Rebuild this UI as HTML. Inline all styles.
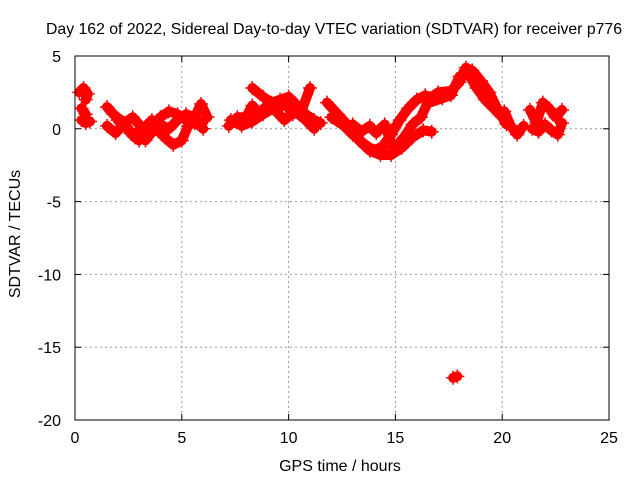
<!DOCTYPE html>
<html><head><meta charset="utf-8"><style>
body{margin:0;background:#fff}
svg text{font-family:"Liberation Sans",sans-serif;font-size:16px;fill:#000}
</style></head><body>
<svg id="chart" width="640" height="480" viewBox="0 0 640 480" xmlns="http://www.w3.org/2000/svg">
<rect width="640" height="480" fill="#fff"/>
<text x="334" y="34" text-anchor="middle" textLength="576" lengthAdjust="spacingAndGlyphs">Day 162 of 2022, Sidereal Day-to-day VTEC variation (SDTVAR) for receiver p776</text>
<g id="grid"></g>
<g id="ticks"></g>
<g id="marks"></g>
<rect x="75" y="56" width="534" height="364" fill="none" stroke="#000" stroke-width="1"/>
<text x="340" y="471" text-anchor="middle">GPS time / hours</text>
<text transform="translate(20,234) rotate(-90)" text-anchor="middle">SDTVAR / TECUs</text>
</svg>
<script>
const xTicks=[0,5,10,15,20,25];
const yTicks=[5,0,-5,-10,-15,-20];
const trackA=[[0.2,2.5],[0.4,2.8],[0.6,2.4],[0.5,2.0]];
const trackB=[[0.3,1.4],[0.5,1.0]];
const trackC=[[0.3,0.6],[0.5,0.4],[0.7,0.5]];
const trackD=[[1.5,1.5],[1.8,1.0],[2.2,0.5],[2.6,-0.3],[3.0,-0.8],[3.3,-0.5],[3.6,0.2],[4.0,0.8],[4.4,1.2],[4.8,1.0],[5.2,0.6],[5.6,0.4],[6.0,0.5]];
const trackE=[[1.5,0.2],[1.9,-0.3],[2.3,0.4],[2.7,0.8],[3.0,0.3],[3.3,-0.8],[3.5,-0.4],[3.8,0.0],[4.2,-0.6],[4.6,-1.1],[5.0,-0.8],[5.3,0.2],[5.6,0.5],[6.0,0.0]];
const trackF=[[2.0,0.6],[2.5,0.0],[2.8,-0.6],[3.2,0.0],[3.6,0.6],[4.0,0.3],[4.4,0.0],[4.8,0.6],[5.2,1.0],[5.6,0.8],[5.9,1.7],[6.2,0.8]];
const trackG=[[7.2,0.2],[7.6,0.8],[8.0,0.8],[8.3,1.6],[8.6,1.0],[9.0,1.6],[9.4,1.2],[9.8,1.8],[10.2,1.0],[10.6,1.2],[11.0,2.8]];
const trackH=[[8.3,2.8],[8.8,2.2],[9.2,1.8],[9.6,2.0],[10.0,2.2],[10.4,1.6],[10.8,1.0],[11.2,0.6],[11.5,0.4]];
const trackI=[[7.3,0.6],[7.8,0.2],[8.3,0.5],[8.8,1.0],[9.3,1.4],[9.8,0.6],[10.3,1.2],[10.8,0.6],[11.2,0.0]];
const trackJ=[[11.8,1.8],[12.3,1.0],[12.8,0.2],[13.3,-0.8],[13.8,-1.5],[14.3,-1.8],[14.8,-1.8],[15.3,-1.3],[15.8,-0.6],[16.3,-0.1],[16.7,-0.2]];
const trackK=[[12.0,0.8],[12.6,0.2],[13.0,-0.4],[13.5,-1.0],[14.0,-1.5],[14.4,-1.2],[14.8,-0.4],[15.2,0.6],[15.6,1.4],[16.0,2.0],[16.4,2.3]];
const trackL=[[13.0,0.3],[13.4,-0.2],[13.8,0.2],[14.1,-0.3],[14.5,0.3],[14.9,-1.4],[15.4,-0.6],[15.8,0.3],[16.2,0.8],[16.6,2.1],[17.0,2.5],[17.6,2.6],[18.0,3.2],[18.3,4.2],[18.6,4.0],[19.0,3.3],[19.4,2.5],[19.8,1.3],[20.2,0.3]];
const trackM=[[16.6,1.8],[17.2,2.1],[17.6,2.3],[18.0,3.6],[18.4,3.8],[18.8,2.8],[19.2,2.0],[19.6,1.4],[20.0,0.8],[20.2,0.4]];
const trackN=[[20.1,1.2],[20.4,0.2],[20.7,-0.4],[21.0,0.2]];
const trackO=[[21.3,1.3],[21.6,0.4],[21.9,1.8],[22.2,1.4],[22.5,0.8],[22.8,1.3]];
const trackP=[[21.4,0.0],[21.7,-0.2],[22.0,0.3],[22.3,-0.1],[22.6,-0.4],[22.8,0.4]];
const trackQ=[[17.7,-17.1],[17.9,-17.0]];
const tracks=[trackA,trackB,trackC,trackD,trackE,trackF,trackG,trackH,trackI,trackJ,trackK,trackL,trackM,trackN,trackO,trackP,trackQ];

const NS="http://www.w3.org/2000/svg";
function xs(h){return 75+(h-0)*(534/25);}
function ys(v){return 420-(v+20)*(364/25);}
function mk(tag,attrs,parent){const e=document.createElementNS(NS,tag);for(const k in attrs)e.setAttribute(k,attrs[k]);parent.appendChild(e);return e;}
const grid=document.getElementById('grid'),ticks=document.getElementById('ticks'),marks=document.getElementById('marks');
xTicks.forEach(t=>{const x=xs(t);
 if(t>0&&t<25){const g=mk('line',{x1:x,x2:x,y1:56,y2:420,stroke:'#999','stroke-dasharray':'2,3'},grid);
 
 }
 mk('line',{x1:x,x2:x,y1:420,y2:414,stroke:'#000'},ticks);mk('line',{x1:x,x2:x,y1:56,y2:62,stroke:'#000'},ticks);
 const l=mk('text',{x:x,y:443,'text-anchor':'middle'},ticks);l.textContent=t;
 
 });
yTicks.forEach(t=>{const y=ys(t);
 if(t<5&&t>-20){const g=mk('line',{x1:75,x2:609,y1:y,y2:y,stroke:'#999','stroke-dasharray':'2,3'},grid);
 
 }
 mk('line',{x1:75,x2:81,y1:y,y2:y,stroke:'#000'},ticks);mk('line',{x1:609,x2:603,y1:y,y2:y,stroke:'#000'},ticks);
 const l=mk('text',{x:61,y:y+6,'text-anchor':'end'},ticks);l.textContent=t;
 
 });
tracks.forEach(tr=>{
 const pts=tr.map(p=>xs(p[0]).toFixed(1)+','+ys(p[1]).toFixed(1)).join(' ');
 const pl=mk('polyline',{points:pts,fill:'none',stroke:'#f00','stroke-width':10,'stroke-linejoin':'round','stroke-linecap':'round'},marks);
 
 
 tr.forEach(p=>{const x=xs(p[0]),y=ys(p[1]);
  const m=mk('path',{d:`M${x-7},${y}H${x+7}M${x},${y-7}V${y+7}`,stroke:'#f00','stroke-width':1.5},marks);
  
  });
});
</script>
</body></html>
